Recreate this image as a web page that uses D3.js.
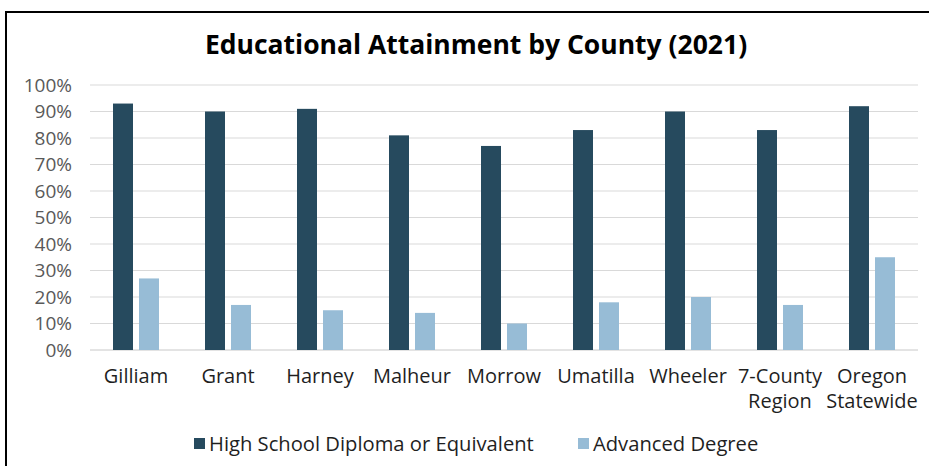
<!DOCTYPE html>
<html>
<head>
<meta charset="utf-8">
<script src="https://cdn.jsdelivr.net/npm/d3@7"></script>
<style>
  html, body { margin: 0; padding: 0; background: #fff; }
  svg { display: block; }
</style>
</head>
<body>
<svg id="chart" width="929" height="466"></svg>
<script>
// Educational attainment by county, 2021
const categories = [
  ["Gilliam"], ["Grant"], ["Harney"], ["Malheur"], ["Morrow"],
  ["Umatilla"], ["Wheeler"], ["7-County", "Region"], ["Oregon", "Statewide"]
];
const seriesNames = ["High School Diploma or Equivalent", "Advanced Degree"];
const highSchool = [93, 90, 91, 81, 77, 83, 90, 83, 92];
const advanced   = [27, 17, 15, 14, 10, 18, 20, 17, 35];
const yTicks = [0, 10, 20, 30, 40, 50, 60, 70, 80, 90, 100];
const colors = ["#264a5e", "#97bcd6"];

const svg = d3.select("#chart");
const W = 929, H = 466;
const margin = { left: 90, right: 11, top: 85, bottom: 116 };
const fontFamily = "'Open Sans', sans-serif";

// frame lines
svg.append("line").attr("x1", 5).attr("x2", W).attr("y1", 12).attr("y2", 12)
  .attr("stroke", "#000").attr("stroke-width", 2);
svg.append("line").attr("x1", 6).attr("x2", 6).attr("y1", 12).attr("y2", H)
  .attr("stroke", "#000").attr("stroke-width", 2);

// title
svg.append("text")
  .attr("x", 476).attr("y", 54)
  .attr("text-anchor", "middle")
  .attr("font-family", fontFamily)
  .attr("font-weight", 700)
  .attr("font-size", 26.5)
  .attr("fill", "#000")
  .text("Educational Attainment by County (2021)");

const x0 = d3.scaleBand()
  .domain(d3.range(categories.length))
  .range([margin.left, W - margin.right])
  .paddingInner(0).paddingOuter(0);

const y = d3.scaleLinear().domain([0, 100]).range([H - margin.bottom, margin.top]);

// gridlines
svg.append("g").selectAll("line").data(yTicks).join("line")
  .attr("x1", margin.left).attr("x2", W - margin.right)
  .attr("y1", d => y(d)).attr("y2", d => y(d))
  .attr("stroke", d => d === 0 ? "#c8c8c8" : "#d9d9d9")
  .attr("stroke-width", 1);

// y axis labels
const yAxis = d3.axisLeft(y).tickValues(yTicks).tickFormat(d => d + "%").tickSize(0).tickPadding(0);
const gy = svg.append("g").attr("transform", `translate(${72},0)`).call(yAxis);
gy.select(".domain").remove();
gy.selectAll("text")
  .attr("font-family", fontFamily)
  .attr("font-size", 19)
  .attr("fill", "#595959");

// bars
const barW = 20, gap = 6;
const series = [highSchool, advanced];
series.forEach((vals, si) => {
  svg.append("g").selectAll("rect").data(vals).join("rect")
    .attr("x", (d, i) => {
      const c = x0(i) + x0.bandwidth() / 2;
      return si === 0 ? c - gap / 2 - barW : c + gap / 2;
    })
    .attr("y", d => y(d))
    .attr("width", barW)
    .attr("height", d => y(0) - y(d))
    .attr("fill", colors[si]);
});

// category labels
const gx = svg.append("g");
categories.forEach((lines, i) => {
  const cx = x0(i) + x0.bandwidth() / 2;
  const t = gx.append("text")
    .attr("x", cx)
    .attr("y", 383)
    .attr("text-anchor", "middle")
    .attr("font-family", fontFamily)
    .attr("font-size", 20)
    .attr("fill", "#1f1f1f");
  lines.forEach((ln, k) => {
    t.append("tspan").attr("x", cx).attr("dy", k === 0 ? 0 : 25).text(ln);
  });
});

// legend
const legendX = [194, 578];
seriesNames.forEach((name, si) => {
  svg.append("rect")
    .attr("x", legendX[si]).attr("y", 438)
    .attr("width", 11).attr("height", 11)
    .attr("fill", colors[si]);
  svg.append("text")
    .attr("x", legendX[si] + 15).attr("y", 451)
    .attr("font-family", fontFamily)
    .attr("font-size", 20.2)
    .attr("fill", "#1f1f1f")
    .text(name);
});
</script>
</body>
</html>
